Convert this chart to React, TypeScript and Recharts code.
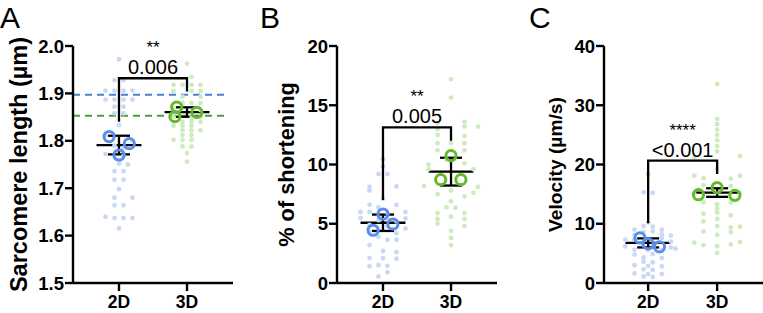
import React from "react";
import { ScatterChart, Scatter, XAxis, YAxis, ErrorBar, ReferenceLine } from "recharts";

// [swarm slot, value] — slot is the horizontal offset of a dot within its column
type Pt = [number, number];

const groups = ["2D", "3D"];
const SLOT = 0.066;

// A: sarcomere length (µm)
const sarcCells2D: Pt[] = [
  [0, 1.972],
  [-1, 1.928], [1, 1.928],
  [-3, 1.906], [-1, 1.906], [1, 1.906], [3, 1.906],
  [-3, 1.887], [-1, 1.887], [1, 1.887], [3, 1.887],
  [-1, 1.872], [1, 1.872],
  [-1, 1.858], [1, 1.858],
  [0, 1.833],
  [-3, 1.812], [3, 1.8],
  [-1, 1.79], [1, 1.785],
  [-3, 1.772], [1, 1.768],
  [0, 1.752], [2, 1.75],
  [-1, 1.736], [1, 1.736],
  [-1, 1.718], [1, 1.718],
  [0, 1.698],
  [-1, 1.68], [3, 1.68],
  [-1, 1.664], [1, 1.664],
  [-3, 1.64], [-1, 1.637], [1, 1.637], [3, 1.637],
  [0, 1.615],
];
const sarcCells3D: Pt[] = [
  [0, 1.963],
  [1, 1.935],
  [-3, 1.918], [-1, 1.918], [1, 1.918], [3, 1.918],
  [-3, 1.905], [1, 1.905], [3, 1.905],
  [-1, 1.893], [3, 1.893],
  [-1, 1.88], [1, 1.88], [3, 1.88],
  [-3, 1.868], [3, 1.865],
  [-3, 1.85], [1, 1.848], [3, 1.85],
  [-1, 1.84], [1, 1.84], [3, 1.84],
  [-3, 1.832], [-1, 1.832], [1, 1.832],
  [-1, 1.822], [1, 1.822], [3, 1.822],
  [-1, 1.812], [1, 1.812],
  [-3, 1.802], [-1, 1.802], [1, 1.802],
  [-1, 1.788], [1, 1.788],
  [0, 1.774],
  [0, 1.756],
];
const sarcReps2D: Pt[] = [[-2.2, 1.809], [2.3, 1.794], [0, 1.77]];
const sarcReps3D: Pt[] = [[-2.3, 1.871], [-2.7, 1.851], [2.2, 1.86]];
const sarcTicks = [1.5, 1.6, 1.7, 1.8, 1.9, 2.0];
const sarcBracket = [1.84, 1.932, 1.904];
const sarcGuide2D = 1.897;
const sarcGuide3D = 1.853;

// B: % of shortening
const shortCells2D: Pt[] = [
  [0, 10.45], [0, 9.85], [-1, 9.2], [1, 9.2], [-3, 8.1], [3, 8.15], [-3, 7.8],
  [0, 7.1], [-3, 6.6], [3, 6.6], [-1, 6.4], [-5, 6.0], [-3, 6.0], [5, 6.0], [1, 5.9],
  [-5, 5.5], [5, 5.45], [-1, 5.3], [3, 5.2], [-3, 4.9], [1, 4.8], [5, 4.6], [-3, 4.3], [3, 4.2],
  [-1, 3.9], [1, 3.65], [3, 3.65], [-3, 3.2], [0, 2.7], [3, 2.6], [-3, 2.1], [0, 2.1], [3, 2.05],
  [-3, 1.4], [1, 1.45], [-1, 1.5], [1, 0.9], [-1, 0.55],
];
const shortCells3D: Pt[] = [
  [0, 17.2], [0, 15.65],
  [-3, 13.5], [3, 13.6], [3, 13.2], [6, 13.2], [-3, 13.0], [-3, 12.5], [3, 12.4],
  [-3, 11.8], [0, 11.8], [3, 11.8],
  [-3, 11.2], [3, 11.2],
  [-5, 10.0], [-1, 10.4], [3, 10.1],
  [-5, 9.6], [5, 9.6],
  [-6, 8.2], [6, 8.1], [5, 7.6],
  [-3, 7.5], [0, 7.8], [3, 7.3],
  [0, 6.9], [-1, 6.4], [1, 6.35],
  [-3, 5.9], [3, 5.9], [0, 5.6],
  [-3, 5.4], [3, 5.4], [-3, 5.0], [3, 4.8],
  [0, 4.4], [0, 3.8], [0, 3.2],
];
const shortReps2D: Pt[] = [[0, 5.82], [-2.2, 4.45], [2.2, 4.98]];
const shortReps3D: Pt[] = [[0, 10.75], [-2.3, 8.72], [2.2, 8.72]];
const shortTicks = [0, 5, 10, 15, 20];
const shortBracket = [7.0, 13.14, 12.0];

// C: velocity (µm/s)
const velCells2D: Pt[] = [
  [0, 18.4], [-1, 15.3], [1, 15.2],
  [0, 10.2], [-1, 9.6], [1, 9.5], [-3, 9.0], [3, 9.0], [-1, 8.6], [1, 8.7], [-3, 8.1], [3, 8.2], [5, 8.0],
  [-5, 7.3], [5, 7.0], [-3, 7.4], [3, 7.6],
  [-5, 6.2], [5, 6.0], [-3, 5.6], [0, 5.6], [3, 5.5], [6, 5.8],
  [-3, 4.8], [1, 4.9], [-1, 4.3], [3, 4.2],
  [-1, 3.6], [1, 3.5], [-3, 3.0], [0, 2.9], [3, 2.8],
  [-1, 2.3], [1, 2.2], [-3, 1.6], [0, 1.5], [3, 1.5], [-1, 1.1], [1, 1.0],
];
const velCells3D: Pt[] = [
  [0, 33.6], [0, 27.7], [0, 26.8], [0, 25.9], [0, 25.0], [0, 24.1], [0, 23.1], [0, 22.2],
  [-5, 21.2], [5, 21.4], [0, 19.3],
  [-5, 18.1], [-3, 17.7], [3, 17.6], [5, 18.1],
  [-3, 16.5], [3, 16.4],
  [-5, 15.0], [5, 15.2],
  [-3, 13.6], [0, 13.3], [3, 13.6], [0, 12.6],
  [-3, 11.7], [0, 11.9], [3, 11.4],
  [-3, 10.4], [0, 10.8],
  [0, 9.6], [3, 9.4], [5, 9.5],
  [-3, 8.7], [3, 8.6], [0, 8.1],
  [-5, 6.8], [-3, 6.4], [0, 6.2], [3, 6.5], [5, 6.9],
  [0, 5.1],
];
const velReps2D: Pt[] = [[-1.8, 7.6], [0, 6.6], [2.5, 6.1]];
const velReps3D: Pt[] = [[-4.1, 14.9], [0, 16.1], [3.9, 14.8]];
const velTicks = [0, 10, 20, 30, 40];
const velBracket = [10.07, 20.64, 18.4];

const FONT = '"Liberation Sans", Arial, sans-serif';
const INK = "#000";
const AXIS_W = 2.4;
const DOT_2D = "#c8d8f5";
const DOT_3D = "#cdebbf";
const RING_2D = "#5a8eea";
const RING_3D = "#65ba2c";

interface PanelDef {
  letter: string;
  letterX: number;
  left: number;
  width: number;
  axisW: number;
  marginRight: number;
  xDomain: [number, number];
  yDomain: [number, number];
  yTicks: number[];
  fmt: (v: number) => string;
  title: string;
  titleX: number;
  titleSize: number;
  cells2D: Pt[];
  cells3D: Pt[];
  reps2D: Pt[];
  reps3D: Pt[];
  bracket: number[];
  pText: string;
  stars: string;
  guides?: { y: number; color: string; end: number }[];
}

const panels: PanelDef[] = [
  {
    letter: "A", letterX: 0, left: 0, width: 240, axisW: 73, marginRight: 7,
    xDomain: [-0.676, 1.676], yDomain: [1.5, 2.0], yTicks: sarcTicks, fmt: (v) => v.toFixed(1),
    title: "Sarcomere length (µm)", titleX: 27, titleSize: 23.5,
    cells2D: sarcCells2D, cells3D: sarcCells3D, reps2D: sarcReps2D, reps3D: sarcReps3D,
    bracket: sarcBracket, pText: "0.006", stars: "**",
    guides: [
      { y: sarcGuide2D, color: "#4a7fd6", end: 1.6 },
      { y: sarcGuide3D, color: "#4f9a3c", end: 1.6 },
    ],
  },
  {
    letter: "B", letterX: 260, left: 245, width: 260, axisW: 92, marginRight: 8,
    xDomain: [-0.676, 1.676], yDomain: [0, 20], yTicks: shortTicks, fmt: (v) => String(v),
    title: "% of shortening", titleX: 48.5, titleSize: 21.8,
    cells2D: shortCells2D, cells3D: shortCells3D, reps2D: shortReps2D, reps3D: shortReps3D,
    bracket: shortBracket, pText: "0.005", stars: "**",
  },
  {
    letter: "C", letterX: 529, left: 505, width: 258, axisW: 99, marginRight: 0,
    xDomain: [-0.64, 1.665], yDomain: [0, 40], yTicks: velTicks, fmt: (v) => String(v),
    title: "Velocity (µm/s)", titleX: 57, titleSize: 19.2,
    cells2D: velCells2D, cells3D: velCells3D, reps2D: velReps2D, reps3D: velReps3D,
    bracket: velBracket, pText: "<0.001", stars: "****",
  },
];

const toXY = (list: Pt[], cat: number) => list.map(([s, v]) => ({ x: cat + s * SLOT, y: v }));

// mean ± SD of the replicate means
const summary = (reps: Pt[], cat: number) => {
  const vals = reps.map((r) => r[1]);
  const m = vals.reduce((a, b) => a + b, 0) / vals.length;
  const sd = Math.sqrt(vals.reduce((a, b) => a + (b - m) ** 2, 0) / (vals.length - 1));
  return { x: cat, y: m, sd };
};

const dotShape = (fill: string) => (props: any) => (
  <circle cx={props.cx} cy={props.cy} r={2.4} fill={fill} />
);
const ringShape = (stroke: string) => (props: any) => (
  <circle cx={props.cx} cy={props.cy} r={5.1} fill="none" stroke={stroke} strokeWidth={3} />
);
const noShape = () => <g />;

function Panel({ p }: { p: PanelDef }) {
  const m2D = summary(p.reps2D, 0);
  const m3D = summary(p.reps3D, 1);
  const bracket = [
    { x: 0, y: p.bracket[0] },
    { x: 0, y: p.bracket[1] },
    { x: 1, y: p.bracket[1] },
    { x: 1, y: p.bracket[2] },
  ];
  const axisLine = { stroke: INK, strokeWidth: AXIS_W };

  // p value just above the bracket, significance stars above that
  const sigLabel = (props: any) => (
    <g>
      <text x={props.cx} y={props.cy - 25} textAnchor="middle" fontFamily={FONT} fontSize={17} fill={INK}>
        {p.stars}
      </text>
      <text x={props.cx} y={props.cy - 4} textAnchor="middle" fontFamily={FONT} fontSize={20} fill={INK}>
        {p.pText}
      </text>
    </g>
  );

  const titleContent = (props: any) => {
    const vb = props.viewBox;
    const cy = vb.y + vb.height / 2;
    return (
      <text
        x={p.titleX}
        y={cy}
        transform={`rotate(-90 ${p.titleX} ${cy})`}
        textAnchor="middle"
        fontFamily={FONT}
        fontWeight="bold"
        fontSize={p.titleSize}
        fill={INK}
      >
        {p.title}
      </text>
    );
  };

  return (
    <div style={{ position: "absolute", left: p.left, top: 0 }}>
      <ScatterChart
        width={p.width}
        height={313}
        margin={{ top: 46, right: p.marginRight, bottom: 0, left: 0 }}
      >
        <XAxis
          type="number"
          dataKey="x"
          domain={p.xDomain}
          ticks={[0, 1]}
          interval={0}
          tickFormatter={(v: number) => groups[v]}
          height={30}
          axisLine={axisLine}
          tickLine={axisLine}
          tickSize={8}
          tickMargin={5}
          tick={{ fontFamily: FONT, fontWeight: "bold", fontSize: 17.5, fill: INK }}
        />
        <YAxis
          type="number"
          dataKey="y"
          domain={p.yDomain}
          ticks={p.yTicks}
          interval={0}
          tickFormatter={p.fmt}
          width={p.axisW}
          axisLine={axisLine}
          tickLine={axisLine}
          tickSize={8}
          tickMargin={1}
          tick={{ fontFamily: FONT, fontWeight: "bold", fontSize: 18.5, fill: INK }}
          label={{ content: titleContent }}
        />
        <Scatter data={toXY(p.cells2D, 0)} shape={dotShape(DOT_2D)} isAnimationActive={false} />
        <Scatter data={toXY(p.cells3D, 1)} shape={dotShape(DOT_3D)} isAnimationActive={false} />
        {(p.guides || []).map((g) => (
          <ReferenceLine
            key={g.color}
            segment={[{ x: p.xDomain[0], y: g.y }, { x: g.end, y: g.y }]}
            stroke={g.color}
            strokeWidth={2}
            strokeDasharray="7 5"
          />
        ))}
        <Scatter data={toXY(p.reps2D, 0)} shape={ringShape(RING_2D)} isAnimationActive={false} />
        <Scatter data={toXY(p.reps3D, 1)} shape={ringShape(RING_3D)} isAnimationActive={false} />
        {[m2D, m3D].map((m) => (
          <ReferenceLine
            key={m.x}
            segment={[{ x: m.x - 0.33, y: m.y }, { x: m.x + 0.33, y: m.y }]}
            stroke={INK}
            strokeWidth={2.3}
          />
        ))}
        <Scatter data={[m2D, m3D]} shape={noShape} isAnimationActive={false}>
          <ErrorBar dataKey="sd" direction="y" width={11} stroke={INK} strokeWidth={2.3} />
        </Scatter>
        <Scatter
          data={bracket}
          shape={noShape}
          line={{ stroke: INK, strokeWidth: 2.3 }}
          isAnimationActive={false}
        />
        <Scatter data={[{ x: 0.5, y: p.bracket[1] }]} shape={sigLabel} isAnimationActive={false} />
      </ScatterChart>
      <div
        style={{
          position: "absolute",
          left: p.letterX - p.left,
          top: 0,
          fontFamily: FONT,
          fontSize: 30,
          lineHeight: "35px",
          color: INK,
        }}
      >
        {p.letter}
      </div>
    </div>
  );
}

export default function App() {
  return (
    <div style={{ position: "absolute", left: 0, top: 0, width: 763, height: 313, background: "#fff" }}>
      {panels.map((p) => (
        <Panel key={p.letter} p={p} />
      ))}
    </div>
  );
}
